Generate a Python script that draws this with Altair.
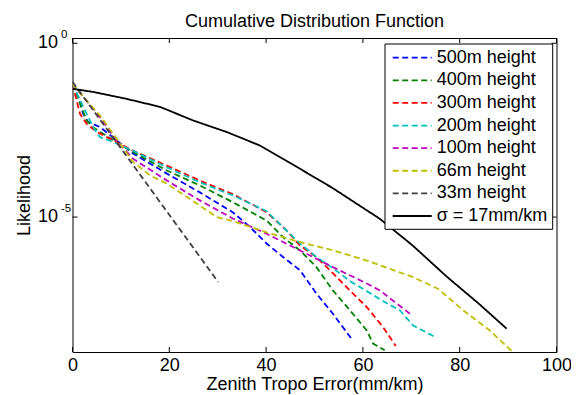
import altair as alt
import pandas as pd

FONT = "Liberation Sans"

series_names = ["500m height", "400m height", "300m height", "200m height",
                "100m height", "66m height", "33m height", "σ = 17mm/km"]
line_colors = ["#0000ff", "#008000", "#ff0000", "#00bfbf",
               "#bf00bf", "#bfbf00", "#404040", "#000000"]
dash_patterns = [[6, 3.5]] * 7 + [[1, 0]]

# x values (mm/km) and log10(likelihood)
x_500 = [0, 1.2, 2.2, 3.2, 5.7, 12.5, 19.5, 26.3, 33.1, 36.7, 40.1, 43.5, 47.0, 50.4, 53.8, 57.9]
l_500 = [-1.17, -1.55, -2.03, -2.26, -2.41, -3.17, -3.75, -4.29, -4.86, -5.29, -5.76, -6.15, -6.53, -7.20, -7.78, -8.55]

x_400 = [0, 1.55, 2.9, 4.2, 5.7, 12.5, 19.5, 26.3, 33.1, 40.1, 43.5, 47.0, 50.4, 53.8, 57.3, 60.8, 62.1, 64.5]
l_400 = [-1.17, -1.73, -2.22, -2.41, -2.55, -3.13, -3.66, -4.09, -4.57, -5.10, -5.58, -5.96, -6.44, -7.11, -7.68, -8.26, -8.64, -8.83]

x_300 = [0, 1.55, 2.9, 4.2, 5.7, 12.5, 19.5, 26.3, 33.1, 40.1, 44.2, 47.0, 50.4, 53.9, 57.3, 60.8, 64.2, 66.8]
l_300 = [-1.17, -2.03, -2.31, -2.46, -2.60, -3.09, -3.52, -3.95, -4.34, -4.86, -5.38, -5.82, -6.15, -6.63, -7.11, -7.59, -8.17, -8.71]

x_200 = [0, 2.6, 3.6, 5.0, 5.7, 7.7, 12.5, 19.5, 26.3, 33.2, 40.1, 43.5, 47.0, 50.4, 53.9, 57.3, 60.8, 64.2, 67.6, 70.4, 74.9]
l_200 = [-1.17, -1.94, -2.22, -2.59, -2.70, -2.80, -3.09, -3.57, -4.00, -4.38, -4.83, -5.29, -5.76, -6.15, -6.48, -6.84, -7.13, -7.42, -7.68, -8.12, -8.45]

x_100 = [0, 2.9, 5.7, 9.1, 12.5, 19.5, 26.3, 33.1, 40.1, 47.0, 53.8, 60.8, 63.5, 69.7]
l_100 = [-1.17, -1.65, -2.13, -2.80, -3.32, -3.95, -4.52, -5.04, -5.48, -5.96, -6.44, -6.91, -7.11, -7.78]

x_66 = [0, 2.9, 5.7, 9.1, 12.5, 16.0, 19.5, 26.3, 29.8, 33.2, 40.1, 47.0, 53.9, 60.8, 67.6, 70.4, 75.5, 80.7, 86.2, 90.7]
l_66 = [-1.17, -1.65, -2.08, -2.74, -3.41, -3.80, -4.04, -4.67, -5.00, -5.12, -5.44, -5.72, -5.96, -6.25, -6.59, -6.73, -7.06, -7.68, -8.26, -8.85]

x_33 = [0, 5.7, 12.5, 19.5, 26.3, 30.1]
l_33 = [-1.11, -2.20, -3.50, -4.84, -6.14, -6.87]

x_sig = [0, 4.3, 11.2, 18.1, 24.9, 31.8, 38.7, 47.0, 53.8, 63.5, 70.3, 77.3, 84.1, 89.7]
l_sig = [-1.31, -1.40, -1.60, -1.83, -2.22, -2.55, -2.94, -3.61, -4.17, -5.05, -5.82, -6.71, -7.51, -8.21]

all_x = [x_500, x_400, x_300, x_200, x_100, x_66, x_33, x_sig]
all_l = [l_500, l_400, l_300, l_200, l_100, l_66, l_33, l_sig]

rows = []
for name, xs_, ls_ in zip(series_names, all_x, all_l):
    for xv, lv in zip(xs_, ls_):
        rows.append({"series": name, "x": xv, "y": 10 ** lv})
df = pd.DataFrame(rows)

x_ticks = [0, 20, 40, 60, 80, 100]
y_ticks = [1.0, 1e-5]
y_tick_exp = ["0", "-5"]

W, H = 484, 314
y_lo, y_hi = 10 ** -8.882, 10 ** 0.152

xs = alt.Scale(domain=[0, 100], nice=False, zero=False)
ys = alt.Scale(type="log", domain=[y_lo, y_hi], nice=False)
color_scale = alt.Scale(domain=series_names, range=line_colors)
dash_scale = alt.Scale(domain=series_names, range=dash_patterns)

x_axis = alt.Axis(values=x_ticks, title="Zenith Tropo Error(mm/km)", ticks=False, domain=False,
                  grid=False, labelFontSize=18, titleFontSize=18, labelPadding=4, titlePadding=1,
                  labelFlush=False, titleFontWeight="normal")
y_axis = alt.Axis(values=y_ticks, labels=False, ticks=False, domain=False, grid=False,
                  title="Likelihood", titleFontSize=18, titlePadding=39, titleFontWeight="normal")

X = alt.X("x:Q", scale=xs, axis=x_axis)
Y = alt.Y("y:Q", scale=ys, axis=y_axis)

lines = alt.Chart(df).mark_line(strokeWidth=1.8, clip=True).encode(
    x=X, y=Y,
    color=alt.Color("series:N", scale=color_scale, legend=None),
    strokeDash=alt.StrokeDash("series:N", scale=dash_scale, legend=None),
)

xt_df = pd.DataFrame({"x": x_ticks})
yt_df = pd.DataFrame({"y": y_ticks, "base": ["10", "10"], "exp": y_tick_exp})

tick_bottom = alt.Chart(xt_df).mark_rule(color="black", strokeWidth=1).encode(
    x=X, y=alt.value(H), y2=alt.value(H - 5))
tick_top = alt.Chart(xt_df).mark_rule(color="black", strokeWidth=1).encode(
    x=X, y=alt.value(0), y2=alt.value(5))
tick_left = alt.Chart(yt_df).mark_rule(color="black", strokeWidth=1).encode(
    y=Y, x=alt.value(0), x2=alt.value(5))
tick_right = alt.Chart(yt_df).mark_rule(color="black", strokeWidth=1).encode(
    y=Y, x=alt.value(W), x2=alt.value(W - 5))
ylab = alt.Chart(yt_df).mark_text(align="right", baseline="middle", fontSize=18,
                                  font=FONT, color="black").encode(
    y=Y, x=alt.value(-14.5), text="base:N")
yexp = alt.Chart(yt_df).mark_text(align="left", baseline="middle", fontSize=11.5, dy=-8,
                                  font=FONT, color="black").encode(
    y=Y, x=alt.value(-11.5), text="exp:N")

main = alt.layer(lines, tick_bottom, tick_top, tick_left, tick_right, ylab, yexp)

leg_df = pd.DataFrame({"series": series_names, "idx": list(range(len(series_names)))})
leg_y = alt.Y("idx:Q", scale=alt.Scale(domain=[0, 7], range=[19.7, 178]), axis=None)
box = alt.Chart(pd.DataFrame({"a": [0]})).mark_rect(
    fill="white", stroke="black", strokeWidth=1).encode(
    x=alt.value(312.5), x2=alt.value(480.2), y=alt.value(6), y2=alt.value(191.3))
leg_rules = alt.Chart(leg_df).mark_rule(strokeWidth=1.8).encode(
    x=alt.value(320.2), x2=alt.value(359.2), y=leg_y,
    color=alt.Color("series:N", scale=color_scale, legend=None),
    strokeDash=alt.StrokeDash("series:N", scale=dash_scale, legend=None))
leg_text = alt.Chart(leg_df).mark_text(align="left", baseline="middle", fontSize=18,
                                       font=FONT, color="black").encode(
    x=alt.value(364.2), y=leg_y, text="series:N")
legend = alt.layer(box, leg_rules, leg_text)

chart = alt.layer(main, legend).resolve_scale(y="independent").properties(
    width=W, height=H,
    title=alt.TitleParams("Cumulative Distribution Function", fontSize=18, fontWeight="normal",
                          font=FONT, offset=7, dy=9, color="black", anchor="middle", frame="group"),
    autosize=alt.AutoSizeParams(type="none"),
    padding={"left": 64.5, "top": 30, "right": 14.5, "bottom": 43},
).configure_view(stroke="black", strokeWidth=1).configure_axis(
    labelFont=FONT, titleFont=FONT, labelColor="black", titleColor="black")

chart.save("out.html", embed_options={"renderer": "svg", "actions": False})
